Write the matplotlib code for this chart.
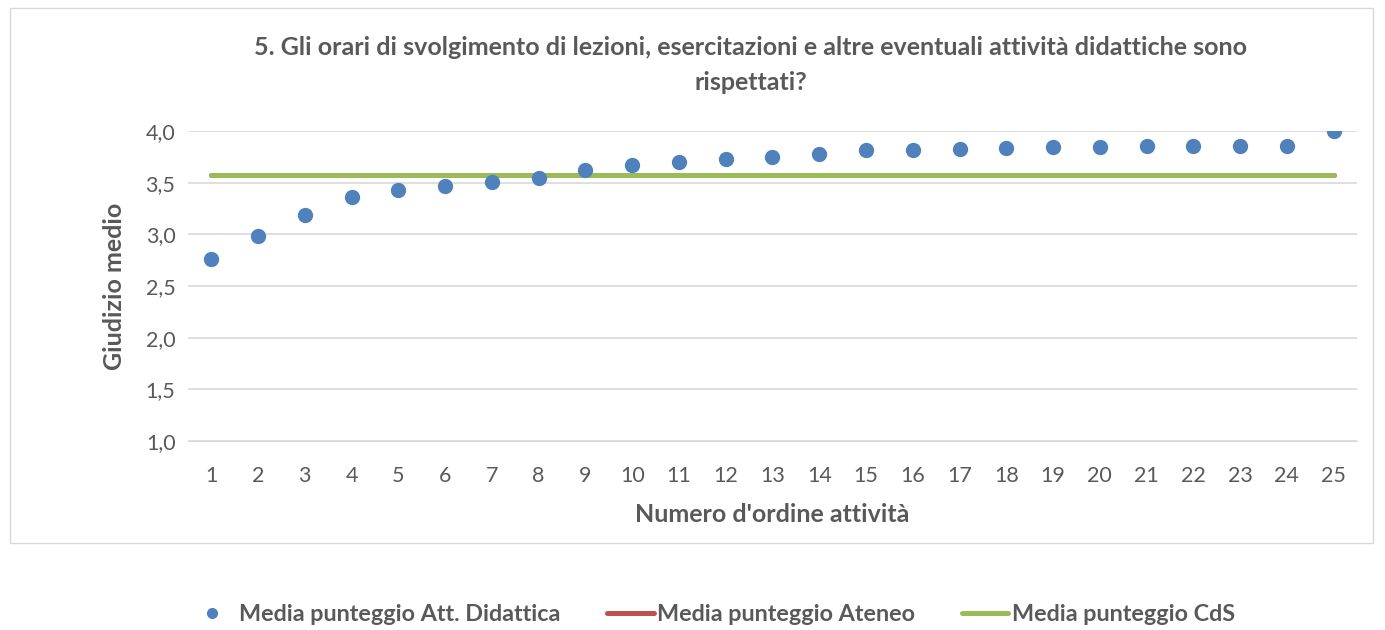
import matplotlib.pyplot as plt
import matplotlib.patches as patches
from matplotlib.ticker import FuncFormatter, MultipleLocator

plt.rcParams['font.family'] = ['Lato', 'DejaVu Sans']

# data
attivita = list(range(1, 26))
media_att = [2.76, 2.98, 3.19, 3.36, 3.43, 3.47, 3.51, 3.55, 3.62, 3.67,
             3.70, 3.73, 3.75, 3.78, 3.82, 3.82, 3.83, 3.84, 3.85, 3.85,
             3.86, 3.86, 3.86, 3.86, 4.00]
media_ateneo = [3.57] * 25
media_cds = [3.57] * 25

grey = "#595959"

fig = plt.figure(figsize=(13.85, 6.3), dpi=100)
ax = fig.add_axes([0.1357, 0.3, 0.8441, 0.492])

# chart border
fig.patches.append(patches.Rectangle((10 / 1385, 1 - 543 / 630), 1363 / 1385, 535 / 630,
                                     transform=fig.transFigure, fill=False,
                                     edgecolor="#d9d9d9", linewidth=1))

ax.plot(attivita, media_att, "o", color="#4f81bd", markersize=10,
        label="Media punteggio Att. Didattica", zorder=4)
ax.plot(attivita, media_ateneo, color="#c0504d", linewidth=3.6,
        solid_capstyle="round", label="Media punteggio Ateneo", zorder=2)
ax.plot(attivita, media_cds, color="#9bbb59", linewidth=3.6,
        solid_capstyle="round", label="Media punteggio CdS", zorder=3)

ax.set_xlim(0.5, 25.5)
ax.set_ylim(1.0, 4.0)
ax.set_xticks(attivita)
ax.yaxis.set_major_locator(MultipleLocator(0.5))
ax.yaxis.set_major_formatter(FuncFormatter(lambda v, p: f"{v:.1f}".replace(".", ",")))
ax.grid(axis="y", color="#d9d9d9", linewidth=1.2)
ax.set_axisbelow(True)
for s in ["top", "right", "left"]:
    ax.spines[s].set_visible(False)
ax.spines["bottom"].set_color("#d9d9d9")
ax.tick_params(axis="y", length=0, labelsize=15.5, colors=grey, pad=9)
ax.tick_params(axis="x", length=0, labelsize=15.5, colors=grey, pad=18)

ax.set_xlabel("Numero d'ordine attività", fontsize=18, fontweight="bold",
              color=grey, labelpad=12)
ax.set_ylabel("Giudizio medio", fontsize=18, fontweight="bold", color=grey,
              labelpad=14)
fig.text(0.542, 0.897, "5. Gli orari di svolgimento di lezioni, esercitazioni e altre eventuali attività didattiche sono\nrispettati?",
         ha="center", va="center", fontsize=18, fontweight="bold", color=grey,
         linespacing=1.65)

fig.legend(loc="center", bbox_to_anchor=(0.514, 0.024), ncol=3, frameon=False,
           prop={"weight": "bold", "size": 16.8}, labelcolor=grey,
           handlelength=2.0, columnspacing=2.0, handletextpad=0.15,
           markerscale=0.7)

fig.savefig("out.png", dpi=100)
